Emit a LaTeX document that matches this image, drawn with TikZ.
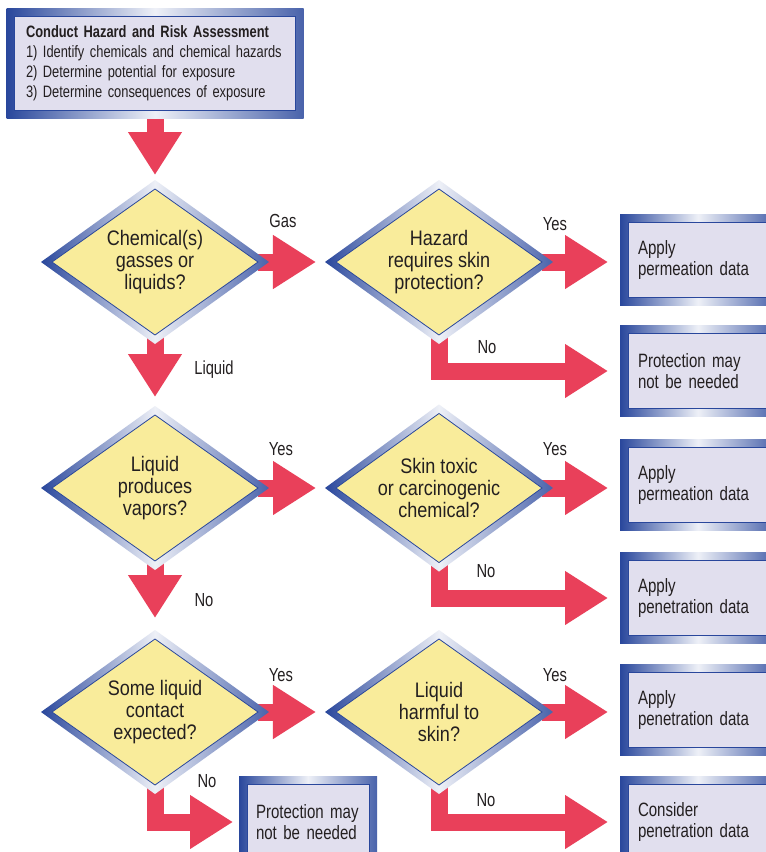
\documentclass[tikz,border=0pt]{standalone}
\usepackage{fontspec}
\setmainfont{Liberation Sans}[FakeStretch=0.78]
\newfontfamily\qfont{Liberation Sans}[FakeStretch=0.86]
\usepackage{tikz}
\usetikzlibrary{arrows.meta,backgrounds,calc,shapes.geometric}
\definecolor{flowred}{RGB}{233,64,90}
\definecolor{qyellow}{RGB}{249,236,155}
\definecolor{boxlilac}{RGB}{225,223,238}
\definecolor{rimblue}{RGB}{41,71,156}
\definecolor{inkgray}{RGB}{35,31,32}
\begin{document}
\begin{tikzpicture}[x=1pt,y=-1pt,
  every node/.style={text=inkgray, outer sep=0pt},
  start/.style={rectangle, fill=boxlilac, draw=rimblue, line width=0.8pt, text width=258pt, inner xsep=11.5pt, minimum height=94pt, align=left, font=\fontsize{16.5}{20}\selectfont},
  result/.style={rectangle, fill=boxlilac, draw=rimblue, line width=0.8pt, text width=120pt, inner xsep=10pt, minimum height=75pt, align=left, anchor=west, font=\fontsize{19.3}{21}\selectfont},
  question/.style={diamond, fill=qyellow, draw=rimblue, line width=0.8pt, minimum width=206pt, minimum height=146pt, inner sep=-8pt, align=center, font=\qfont\fontsize{21}{21.6}\selectfont},
  answer/.style={font=\fontsize{18.9}{21}\selectfont},
  rim/.style={left color=rimblue, right color=rimblue!85, middle color=rimblue!8},
  flow/.style={draw=flowred, line width=17pt, line join=miter, -{Triangle[length=43pt,width=51pt]}}]
\useasboundingbox (0,0) rectangle (766,852);
\node[start] (start) at (155,63) {\textbf{Conduct Hazard and Risk Assessment}\\1) Identify chemicals and chemical hazards\\2) Determine potential for exposure\\3) Determine consequences of exposure};
\node[question] (gasliq) at (155,262) {Chemical(s)\\gasses or\\liquids?};
\node[question] (skinprot) at (439,262) {Hazard\\requires skin\\protection?};
\node[question] (vapors) at (155,488) {Liquid\\produces\\vapors?};
\node[question] (toxic) at (439,488) {Skin toxic\\or carcinogenic\\chemical?};
\node[question] (contact) at (155,712) {Some liquid\\contact\\expected?};
\node[question] (harmful) at (439,712) {Liquid\\harmful to\\skin?};
\node[result] (perm1) at (628,260) {Apply\\permeation data};
\node[result] (noneed1) at (628,371) {Protection may\\not be needed};
\node[result] (perm2) at (628,485) {Apply\\permeation data};
\node[result] (pen1) at (628,598) {Apply\\penetration data};
\node[result] (pen2) at (628,710) {Apply\\penetration data};
\node[result] (consider) at (628,822) {Consider\\penetration data};
\node[result, text width=104pt, inner xsep=9pt] (noneed2) at (247,822) {Protection may\\not be needed};
\node[answer] (gaslbl) at (283,221) {Gas};
\node[answer] (liqlbl) at (214,370) {Liquid};
\node[answer] (yes1) at (555,224) {Yes};
\node[answer] (no1) at (487,347) {No};
\node[answer] (yes2) at (281,449) {Yes};
\node[answer] (no2) at (204,600) {No};
\node[answer] (yes3) at (555,449) {Yes};
\node[answer] (no3) at (486,571) {No};
\node[answer] (yes4) at (281,675) {Yes};
\node[answer] (no4) at (207,781) {No};
\node[answer] (yes5) at (555,675) {Yes};
\node[answer] (no5) at (486,800) {No};
\begin{scope}[on background layer]
\fill[white] (0,0) rectangle (766,852);
\draw[flow, shorten >=14pt] (start) -- (gasliq);
\draw[flow, shorten >=20pt] (gasliq) -- (skinprot);
\draw[flow, shorten >=20pt] (skinprot) -- (skinprot -| perm1.west);
\draw[flow, shorten >=20pt] (skinprot.south) |- (noneed1.west);
\draw[flow, shorten >=18pt] (gasliq) -- (vapors);
\draw[flow, shorten >=20pt] (vapors) -- (toxic);
\draw[flow, shorten >=20pt] (toxic) -- (toxic -| perm2.west);
\draw[flow, shorten >=20pt] (toxic.south) |- (pen1.west);
\draw[flow, shorten >=21pt] (vapors) -- (contact);
\draw[flow, shorten >=20pt] (contact) -- (harmful);
\draw[flow, shorten >=20pt] (harmful) -- (harmful -| pen2.west);
\draw[flow, shorten >=20pt] (harmful.south) |- (consider.west);
\draw[flow, shorten >=14pt] (contact.south) |- (noneed2.west);
\foreach \n in {start,perm1,noneed1,perm2,pen1,pen2,consider,noneed2}
  \shade[rim] ($(\n.north west)+(-8,-8)$) rectangle ($(\n.south east)+(8,8)$);
\foreach \n in {gasliq,skinprot,vapors,toxic,contact,harmful}
  \shade[rim] ($(\n.west)+(-11,0)$) -- ($(\n.north)+(0,-9)$) -- ($(\n.east)+(11,0)$) -- ($(\n.south)+(0,9)$) -- cycle;
\end{scope}
\end{tikzpicture}
\end{document}
